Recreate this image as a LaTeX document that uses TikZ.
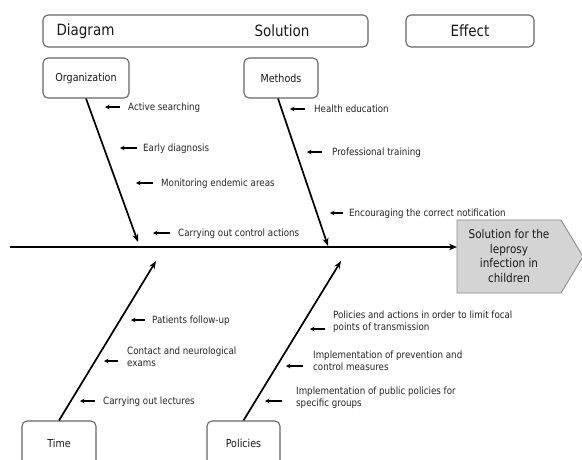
\documentclass[tikz,border=0pt]{standalone}
\usepackage{fontspec}
\setmainfont{DejaVu Sans}[FakeStretch=0.87]
\usetikzlibrary{arrows.meta,calc}
\begin{document}
\begin{tikzpicture}[x=1pt,y=-1pt,
  box/.style={draw=black!60, line width=1.1pt, rounded corners=5pt, inner sep=0pt},
  big/.style={font=\fontsize{15.5}{18}\selectfont, text=black!90},
  cat/.style={font=\fontsize{11}{13}\selectfont, text=black!90},
  lbl/.style={font=\fontsize{10}{12}\selectfont, text=black!85, inner sep=0pt, align=left, anchor=base west},
  bone/.style={line width=1.7pt, -{Stealth[length=8pt,width=6pt]}},
  sub/.style={line width=1.2pt, -{Stealth[length=4.5pt,width=4.5pt]}},
]
\useasboundingbox (0,0) rectangle (582,459);
\clip (0,0) rectangle (582,459);
\fill[white] (0,0) rectangle (582,459);

% header
\node[box, minimum width=325pt, minimum height=32pt] (hdr) at (205.5,31) {};
\node[big, anchor=west] (diag) at (53,31) {Diagram};
\node[big] (sol) at (282,31) {Solution};
\node[box, big, minimum width=128pt, minimum height=32pt] (eff) at (470,31) {Effect};

% category boxes
\node[box, cat, minimum width=86pt, minimum height=40pt] (org) at (86,78) {Organization};
\node[box, cat, minimum width=74pt, minimum height=40pt] (meth) at (281,78) {Methods};
\node[box, cat, minimum width=74pt, minimum height=44pt] (time) at (59,443) {Time};
\node[box, cat, minimum width=73pt, minimum height=44pt] (pol) at (243.5,443) {Policies};

% effect head
\draw[fill=black!17, draw=black!45, line width=0.9pt] (457,220) -- (561,220) -- (583,256.5) -- (561,293) -- (457,293) -- cycle;
\node[font=\fontsize{12}{14.5}\selectfont, align=center, text=black!90] (res) at (509,256) {Solution for the\\leprosy\\infection in\\children};
\coordinate (effin) at (457,247);

% spine
\coordinate (sp0) at (10,247);
\draw[line width=2pt, -{Stealth[length=8pt,width=6.5pt]}] (sp0) -- (effin);

% bones
\coordinate (tOrg) at (138,242);
\coordinate (tMeth) at (328,246);
\coordinate (tTime) at (156,261);
\coordinate (tPol) at (341,261);
\draw[bone] (org.south) -- (tOrg);
\draw[bone] ($(meth.south)+(-3,0)$) -- (tMeth);
\draw[bone] (time.north) -- (tTime);
\draw[bone] (pol.north) -- (tPol);

% Organization causes
\node[lbl] (o1) at (128,110) {Active searching};
\node[lbl] (o2) at (143,151) {Early diagnosis};
\node[lbl] (o3) at (161,186) {Monitoring endemic areas};
\node[lbl] (o4) at (178,236) {Carrying out control actions};
\draw[sub] ($(o1.base west)+(-8,-3)$) -- ++(-15,0);
\draw[sub] ($(o2.base west)+(-6,-3)$) -- ++(-17,0);
\draw[sub] ($(o3.base west)+(-8,-3)$) -- ++(-17,0);
\draw[sub] ($(o4.base west)+(-8,-3)$) -- ++(-17,0);

% Methods causes
\node[lbl] (m1) at (314,112) {Health education};
\node[lbl] (m2) at (332,155) {Professional training};
\node[lbl] (m3) at (349,216) {Encouraging the correct notification};
\draw[sub] ($(m1.base west)+(-9,-3)$) -- ++(-15,0);
\draw[sub] ($(m2.base west)+(-10,-3)$) -- ++(-15,0);
\draw[sub] ($(m3.base west)+(-6,-3)$) -- ++(-13,0);

% Time causes
\node[lbl] (t1) at (152,323) {Patients follow-up};
\node[lbl] (t2) at (127,366) {Contact and neurological\\exams};
\node[lbl] (t3) at (103,404) {Carrying out lectures};
\draw[sub] ($(t1.base west)+(-7,-3)$) -- ++(-14,0);
\draw[sub] ($(t2.base west)+(-9,-5)$) -- ++(-14,0);
\draw[sub] ($(t3.base west)+(-8,-3)$) -- ++(-15,0);

% Policies causes
\node[lbl] (p1) at (333,330) {Policies and actions in order to limit focal\\points of transmission};
\node[lbl] (p2) at (313,370) {Implementation of prevention and\\control measures};
\node[lbl] (p3) at (296,406) {Implementation of public policies for\\specific groups};
\draw[sub] ($(p1.base west)+(-8,-1)$) -- ++(-15,0);
\draw[sub] ($(p2.base west)+(-10,-4)$) -- ++(-17,0);
\draw[sub] ($(p3.base west)+(-14,-5)$) -- ++(-17,0);
\end{tikzpicture}
\end{document}
